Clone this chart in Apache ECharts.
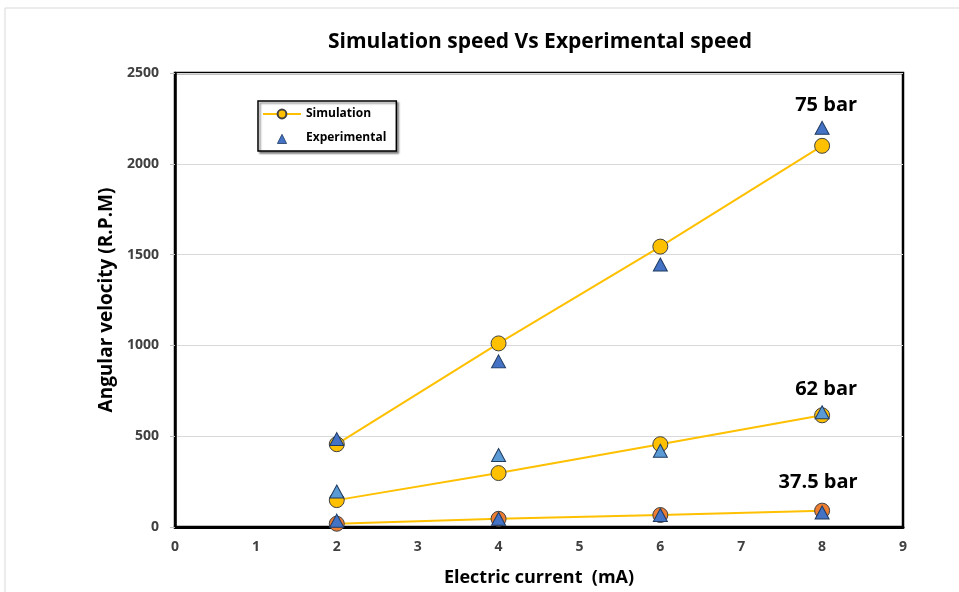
<!DOCTYPE html>
<html><head><meta charset="utf-8">
<script src="https://cdn.jsdelivr.net/npm/echarts@6/dist/echarts.min.js"></script>
<style>html,body{margin:0;padding:0;background:#fff}#c{width:959px;height:592px}</style>
</head><body><div id="c"></div>
<script>
const currents = [2, 4, 6, 8];
const sim75 = [456, 1011, 1544, 2099];
const exp75 = [484, 912, 1445, 2198];
const sim62 = [148, 297, 456, 615];
const exp62 = [195, 396, 420, 632];
const sim375 = [18, 45, 66, 90];
const exp375 = [35, 45, 66, 80];
const xTicks = [0,1,2,3,4,5,6,7,8,9];
const yTicks = [0,500,1000,1500,2000,2500];
const groupLabels = ['75 bar', '62 bar', '37.5 bar'];

const FONT = '"Open Sans", "Noto Sans", sans-serif';
const pts = arr => currents.map((x, i) => [x, arr[i]]);

function simSeries(arr, color, z) {
  return {
    name: 'Simulation', type: 'line', data: pts(arr), z: z,
    symbol: 'circle', symbolSize: 15,
    lineStyle: { color: '#FFC000', width: 2 },
    itemStyle: { color: color, borderColor: '#404040', borderWidth: 1, opacity: 1 },
    emphasis: { disabled: true }
  };
}
function expSeries(arr, color, label, offset, dist) {
  const d = pts(arr).map((p, i) => {
    if (i === arr.length - 1) {
      return { value: p, label: { show: true, formatter: label, position: 'top', distance: dist, offset: offset,
        fontFamily: FONT, fontWeight: 'bold', fontSize: 20, color: '#000', opacity: 1 } };
    }
    return p;
  });
  return {
    name: 'Experimental', type: 'scatter', data: d, z: 5,
    symbol: 'triangle', symbolSize: [14, 13],
    itemStyle: { color: color, borderColor: '#1f3a60', borderWidth: 1, opacity: 1 },
    emphasis: { disabled: true }
  };
}

const chart = echarts.init(document.getElementById('c'));
chart.setOption({
  animation: false,
  backgroundColor: '#fff',
  graphic: [{ type: 'rect', shape: { x: 5, y: 8, width: 1000, height: 700 }, style: { fill: 'none', stroke: '#d9d9d9', lineWidth: 1 }, z: -10 }],
  title: {
    text: 'Simulation speed Vs Experimental speed', left: 535, top: 27, textAlign: 'center',
    textStyle: { fontFamily: FONT, fontWeight: 'bold', fontSize: 21, color: '#000' }
  },
  legend: {
    left: 258, top: 101, orient: 'vertical',
    data: ['Simulation', { name: 'Experimental', icon: 'path://M0,0 M38,12 M14,12 L19,2 L24,12 Z', itemStyle: { borderWidth: 0.8 } }],
    symbolKeepAspect: true,
    itemWidth: 38, itemHeight: 11, itemGap: 12,
    padding: [7, 10, 7, 4],
    borderColor: '#000', borderWidth: 1.5, backgroundColor: '#fff',
    shadowColor: 'rgba(0,0,0,0.45)', shadowBlur: 2, shadowOffsetX: 2, shadowOffsetY: 2,
    textStyle: { fontFamily: FONT, fontWeight: 'bold', fontSize: 12, color: '#000' }
  },
  grid: { left: 175, right: 56, top: 73, bottom: 64, show: true, borderColor: '#000', borderWidth: 2.5 },
  xAxis: {
    type: 'value', min: 0, max: 9, interval: 1,
    name: 'Electric current  (mA)', nameLocation: 'middle', nameGap: 42,
    nameTextStyle: { fontFamily: FONT, fontWeight: 'bold', fontSize: 18, color: '#000' },
    axisLine: { show: true, lineStyle: { color: '#000', width: 3 } },
    axisTick: { show: false },
    splitLine: { show: false },
    axisLabel: { fontFamily: FONT, fontWeight: 'bold', fontSize: 14, color: '#404040', margin: 13,
      formatter: v => xTicks.includes(v) ? String(v) : '' }
  },
  yAxis: {
    type: 'value', min: 0, max: 2500, interval: 500,
    name: 'Angular velocity (R.P.M)', nameLocation: 'middle', nameGap: 55,
    nameTextStyle: { fontFamily: FONT, fontWeight: 'bold', fontSize: 19, color: '#000' },
    axisLine: { show: true, lineStyle: { color: '#000', width: 2.5 } },
    axisTick: { show: true, length: 5, inside: false, lineStyle: { color: '#bfbfbf' } },
    splitLine: { show: true, lineStyle: { color: '#d9d9d9', width: 1 } },
    axisLabel: { fontFamily: FONT, fontWeight: 'bold', fontSize: 14, color: '#404040', margin: 16,
      formatter: v => yTicks.includes(v) ? String(v) : '' }
  },
  series: [
    simSeries(sim75, '#FFC000', 3),
    simSeries(sim62, '#FFC000', 3),
    simSeries(sim375, '#ED7D31', 3),
    expSeries(exp75, '#4472C4', groupLabels[0], [4, 0], 6),
    expSeries(exp62, '#5B9BD5', groupLabels[1], [4, 0], 6),
    expSeries(exp375, '#4472C4', groupLabels[2], [-4, 0], 13)
  ]
});
</script></body></html>
